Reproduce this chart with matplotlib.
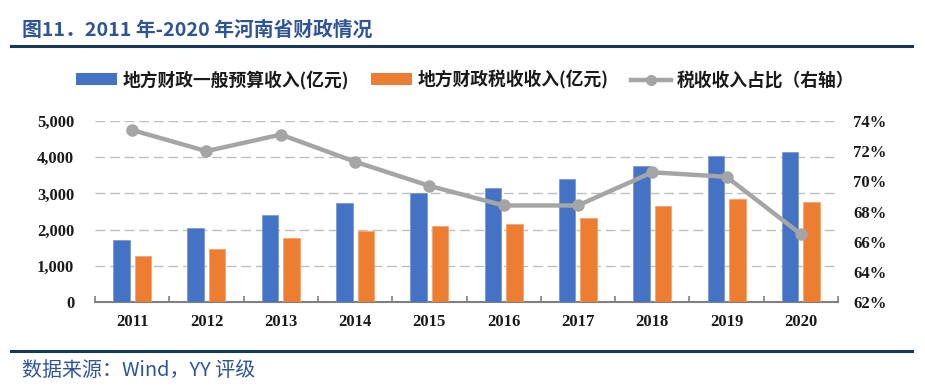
import matplotlib
matplotlib.use("Agg")
import matplotlib.pyplot as plt
import numpy as np
from matplotlib.lines import Line2D
from matplotlib.patches import Patch

years = ["2011", "2012", "2013", "2014", "2015", "2016", "2017", "2018", "2019", "2020"]
general_budget = [1722, 2040, 2415, 2739, 3016, 3153, 3407, 3766, 4041, 4155]
tax_revenue = [1264, 1468, 1765, 1952, 2101, 2158, 2329, 2657, 2841, 2764]
tax_ratio = [73.4, 72.0, 73.1, 71.3, 69.7, 68.4, 68.4, 70.6, 70.3, 66.5]

left_ticks = [0, 1000, 2000, 3000, 4000, 5000]
right_ticks = [62, 64, 66, 68, 70, 72, 74]

label_budget = "地方财政一般预算收入(亿元)"
label_tax = "地方财政税收收入(亿元)"
label_ratio = "税收收入占比（右轴）"
title = "图11．2011 年-2020 年河南省财政情况"
source = "数据来源：Wind，YY 评级"

BLUE = "#4472C4"
ORANGE = "#ED7D31"
GRAY = "#A5A5A5"
TITLE_BLUE = "#2F5597"
NAVY = "#17375E"
TXT = "#1a1a1a"

cjk = ["Noto Sans CJK SC", "DejaVu Sans"]
serif = ["Liberation Serif", "DejaVu Serif"]

fig = plt.figure(figsize=(9.25, 3.92), dpi=100)
ax = fig.add_axes([95 / 925, 1 - 302 / 392, (838 - 95) / 925, (302 - 121) / 392])

x = np.arange(len(years))
off = 0.145
w = 0.222
ax.bar(x - off, general_budget, width=w, color=BLUE, edgecolor="#7A9BD6", linewidth=0.6, zorder=3)
ax.bar(x + off, tax_revenue, width=w, color=ORANGE, edgecolor="#F4A574", linewidth=0.6, zorder=3)

ax.set_xlim(-0.5, len(years) - 0.5)
ax.set_ylim(0, 5000)
ax.set_yticks(left_ticks)
ax.set_yticklabels([f"{v:,}" for v in left_ticks], fontfamily=serif, fontweight="bold",
                   fontsize=12, color=TXT)
for v in left_ticks[1:]:
    ax.axhline(v, color="#BFBFBF", lw=1.0, dashes=(7, 3.5), zorder=1)
ax.tick_params(axis="y", length=0, pad=15)

ax.set_xticks(x)
ax.set_xticklabels(years, fontfamily=serif, fontweight="bold", fontsize=12, color=TXT)
ax.set_xticks(np.arange(-0.5, len(years)), minor=True)
ax.tick_params(axis="x", which="major", length=0, pad=9)
ax.tick_params(axis="x", which="minor", length=4, direction="in", color="#7F7F7F", width=1.2)

for s in ["top", "left", "right"]:
    ax.spines[s].set_visible(False)
ax.spines["bottom"].set_color("#7F7F7F")
ax.spines["bottom"].set_linewidth(1.5)

ax2 = ax.twinx()
ax2.plot(x, tax_ratio, color=GRAY, lw=3.2, marker="o", markersize=8, zorder=5)
ax2.set_ylim(62, 74)
ax2.set_yticks(right_ticks)
ax2.set_yticklabels([f"{v}%" for v in right_ticks], fontfamily=serif, fontweight="bold",
                    fontsize=12, color=TXT)
ax2.tick_params(axis="y", length=0, pad=11)
for s in ["top", "left", "right", "bottom"]:
    ax2.spines[s].set_visible(False)

handles = [
    Patch(facecolor=BLUE, edgecolor="none"),
    Patch(facecolor=ORANGE, edgecolor="none"),
    Line2D([0], [0], color=GRAY, lw=3.2, marker="o", markersize=7),
]
fig.legend(handles, [label_budget, label_tax, label_ratio], loc="center",
           bbox_to_anchor=(0.503, 1 - 80 / 392), ncol=3, frameon=False,
           prop={"family": cjk, "weight": "bold", "size": 12.8},
           handlelength=2.3, handleheight=0.62, handletextpad=0.3, columnspacing=1.25,
           labelcolor=TXT)

fig.text(22 / 925, 1 - 30 / 392, title, fontfamily=cjk, fontweight="bold", fontsize=14.25,
         color=TITLE_BLUE, va="center", ha="left")
fig.add_artist(Line2D([11 / 925, 912 / 925], [1 - 46 / 392] * 2, color=NAVY, lw=2.2))
fig.add_artist(Line2D([11 / 925, 912 / 925], [1 - 351 / 392] * 2, color=NAVY, lw=2.2))
fig.text(22 / 925, 1 - 370 / 392, source, fontfamily=cjk, fontsize=14.4,
         color=TITLE_BLUE, va="center", ha="left")

fig.savefig("out.png", dpi=100)
